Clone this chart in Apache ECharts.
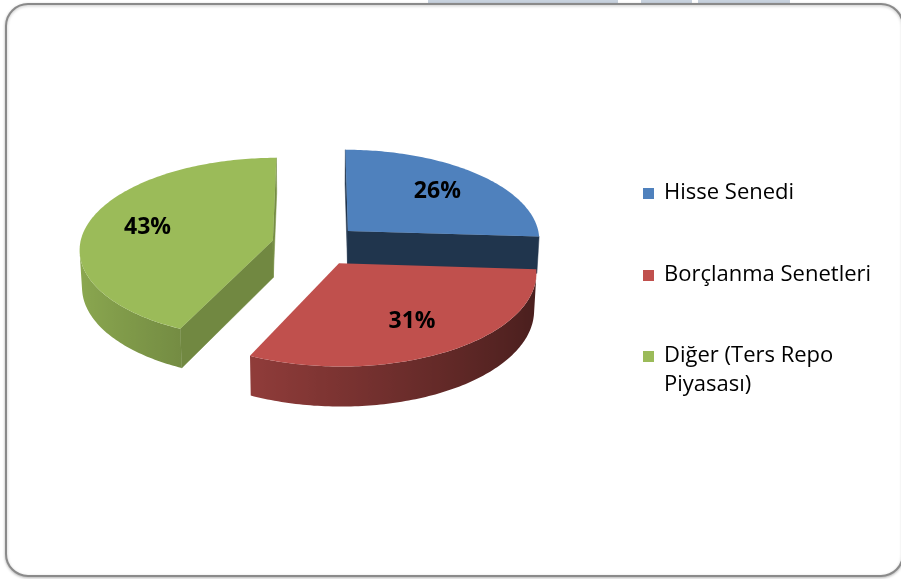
<!DOCTYPE html>
<html>
<head>
<meta charset="utf-8">
<script src="https://cdn.jsdelivr.net/npm/echarts@6/dist/echarts.min.js"></script>
<style>
  html, body { margin: 0; padding: 0; background: #fff; }
  #chart { width: 901px; height: 579px; }
</style>
</head>
<body>
<div id="chart"></div>
<script>
// slice data (clockwise from 12 o'clock)
const categories = ['Hisse Senedi', 'Borçlanma Senetleri', 'Diğer (Ters Repo Piyasası)'];
const values = [26, 31, 43];
const legendLines = [['Hisse Senedi'], ['Borçlanma Senetleri'], ['Diğer (Ters Repo', 'Piyasası)']];

const colors = ['#4F81BD', '#C0504D', '#9BBB59'];

// 3d view settings
const CX = 316, CY = 245;   // screen position of pie centre
const S = 193;              // radius in px
const SIN_T = 0.47, COS_T = Math.sqrt(1 - SIN_T * SIN_T); // tilt
const D = 10;               // camera distance (in radii)
const H = 0.22;             // thickness
const EXPLODE = 0.23;
const LABEL_R = 0.68;

function proj(x, y, z) {
  const yc = y * COS_T + z * SIN_T;
  const zc = D + z * COS_T - y * SIN_T;
  const f = D / zc;
  return [CX + S * x * f, CY - S * yc * f];
}
const cam = [0, D * SIN_T, -D * COS_T];
function facing(n, p) {
  return n[0] * (cam[0] - p[0]) + n[1] * (cam[1] - p[1]) + n[2] * (cam[2] - p[2]) > 0;
}
function shade(c, k) {
  const rgb = echarts.color.parse(c);
  return 'rgb(' + [0, 1, 2].map(j => Math.round(rgb[j] * k)).join(',') + ')';
}
// wall lighting: light from the left
function wallK(a) {
  return 0.64 + 0.26 * Math.cos(a - 1.5 * Math.PI);
}
function cutK(n) {
  return 0.41 + 0.35 * Math.max(0, n[0]);
}

const total = values.reduce((s, v) => s + v, 0);

function wallRun(run, ox, oz, base, z2) {
  // run: list of angles of a contiguous front facing stretch
  const topPts = run.map(a => proj(ox + Math.sin(a), 0, oz + Math.cos(a)));
  const botPts = run.map(a => proj(ox + Math.sin(a), -H, oz + Math.cos(a)));
  const xs = topPts.map(p => p[0]);
  const minX = Math.min.apply(null, xs), maxX = Math.max.apply(null, xs);
  const stops = run.map((a, j) => ({
    offset: maxX > minX ? (xs[j] - minX) / (maxX - minX) : 0,
    color: shade(base, wallK(a))
  })).sort((p, q) => p.offset - q.offset);
  return {
    type: 'polygon',
    z2: z2,
    shape: { points: topPts.concat(botPts.reverse()) },
    style: {
      fill: { type: 'linear', x: minX, y: 0, x2: maxX, y2: 0, global: true, colorStops: stops }
    }
  };
}

function renderSlice(params, api) {
  const i = params.dataIndex;
  let before = 0;
  for (let k = 0; k < i; k++) before += values[k];
  const v = api.value(0);
  const a0 = before / total * 2 * Math.PI;
  const a1 = (before + v) / total * 2 * Math.PI;
  const am = (a0 + a1) / 2;
  const ox = EXPLODE * Math.sin(am), oz = EXPLODE * Math.cos(am);
  const base = colors[i];
  const zb = Math.round(-Math.cos(am) * 100) + 200;
  const children = [];

  const N = Math.max(2, Math.ceil((a1 - a0) / (Math.PI / 180)));
  const angles = [];
  for (let j = 0; j <= N; j++) angles.push(a0 + (a1 - a0) * j / N);
  const top = [proj(ox, 0, oz)].concat(angles.map(a => proj(ox + Math.sin(a), 0, oz + Math.cos(a))));

  // outer wall, front facing stretches only
  let run = [];
  for (let j = 0; j < N; j++) {
    const m = (angles[j] + angles[j + 1]) / 2;
    const n = [Math.sin(m), 0, Math.cos(m)];
    const p = [ox + n[0], -H / 2, oz + n[2]];
    if (facing(n, p)) {
      if (!run.length) run.push(angles[j]);
      run.push(angles[j + 1]);
    } else if (run.length) {
      children.push(wallRun(run, ox, oz, base, zb));
      run = [];
    }
  }
  if (run.length) children.push(wallRun(run, ox, oz, base, zb));

  // cut faces
  [[a0, a0 - Math.PI / 2], [a1, a1 + Math.PI / 2]].forEach(([a, na]) => {
    const n = [Math.sin(na), 0, Math.cos(na)];
    const p = [ox + Math.sin(a) / 2, -H / 2, oz + Math.cos(a) / 2];
    if (!facing(n, p)) return;
    const c = shade(base, cutK(n));
    children.push({
      type: 'polygon',
      z2: zb + 1,
      shape: { points: [
        proj(ox, 0, oz),
        proj(ox + Math.sin(a), 0, oz + Math.cos(a)),
        proj(ox + Math.sin(a), -H, oz + Math.cos(a)),
        proj(ox, -H, oz)
      ] },
      style: { fill: c, stroke: c, lineWidth: 0.5 }
    });
  });

  // top face
  children.push({
    type: 'polygon',
    z2: zb + 2,
    shape: { points: top },
    style: { fill: base }
  });

  // percentage label
  const lp = proj(ox + LABEL_R * Math.sin(am), 0, oz + LABEL_R * Math.cos(am));
  children.push({
    type: 'text',
    z2: 1000,
    style: {
      x: lp[0], y: lp[1],
      text: Math.round(v / total * 100) + '%',
      fill: '#000',
      font: 'bold 23px "Open Sans"',
      align: 'center',
      verticalAlign: 'middle'
    }
  });

  return { type: 'group', children: children };
}

// legend drawn as graphics so the wrapped item keeps its box on the first line
const legendX = 643, legendRows = [193, 275, 356], legendLineH = 29;
const legendGraphics = [];
categories.forEach((name, i) => {
  legendGraphics.push({
    type: 'rect',
    shape: { x: legendX, y: legendRows[i] - 5, width: 11, height: 11 },
    style: { fill: colors[i] }
  });
  legendLines[i].forEach((line, k) => {
    legendGraphics.push({
      type: 'text',
      style: {
        x: legendX + 21, y: legendRows[i] + k * legendLineH,
        text: line,
        fill: '#000',
        font: '22px "Open Sans"',
        verticalAlign: 'middle'
      }
    });
  });
});

const chart = echarts.init(document.getElementById('chart'));
chart.setOption({
  animation: false,
  graphic: [
    { type: 'rect', z: -20, shape: { x: 428, y: 0, width: 190, height: 3 }, style: { fill: '#c8d2de' } },
    { type: 'rect', z: -20, shape: { x: 641, y: 0, width: 51, height: 3 }, style: { fill: '#c8d2de' } },
    { type: 'rect', z: -20, shape: { x: 698, y: 0, width: 92, height: 3 }, style: { fill: '#c8d2de' } },
    {
      type: 'rect', z: -10,
      shape: { x: 6, y: 4, width: 897, height: 572, r: 22 },
      style: {
        fill: '#fff', stroke: '#8a8a8a', lineWidth: 2,
        shadowBlur: 3, shadowColor: 'rgba(0,0,0,0.25)', shadowOffsetY: 1
      }
    }
  ].concat(legendGraphics),
  series: [{
    type: 'custom',
    coordinateSystem: 'none',
    renderItem: renderSlice,
    data: values.map((v, i) => ({ name: categories[i], value: v }))
  }]
});
</script>
</body>
</html>
